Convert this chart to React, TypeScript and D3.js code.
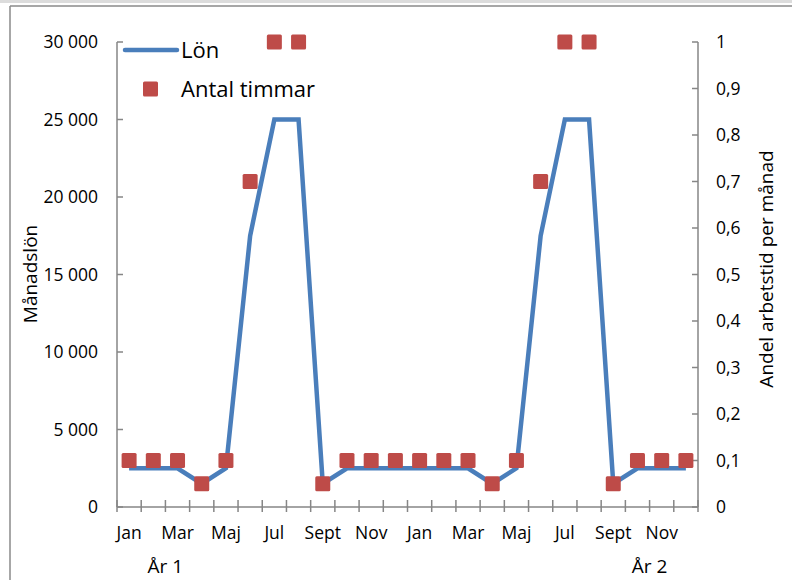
import React from "react";
import * as d3 from "d3";

const monthLabels = ["Jan","Feb","Mar","Apr","Maj","Jun","Jul","Aug","Sept","Okt","Nov","Dec","Jan","Feb","Mar","Apr","Maj","Jun","Jul","Aug","Sept","Okt","Nov","Dec"];
const shownMonths = [0, 2, 4, 6, 8, 10, 12, 14, 16, 18, 20, 22];
const lon = [2500,2500,2500,1500,2500,17500,25000,25000,1500,2500,2500,2500,2500,2500,2500,1500,2500,17500,25000,25000,1500,2500,2500,2500];
const timmar = [0.1,0.1,0.1,0.05,0.1,0.7,1,1,0.05,0.1,0.1,0.1,0.1,0.1,0.1,0.05,0.1,0.7,1,1,0.05,0.1,0.1,0.1];
const leftTicks = [0, 5000, 10000, 15000, 20000, 25000, 30000];
const rightTicks = [0, 0.1, 0.2, 0.3, 0.4, 0.5, 0.6, 0.7, 0.8, 0.9, 1];
const yearLabels = [{ label: "År 1", idx: 1.5 }, { label: "År 2", idx: 21.5 }];

const FONT = "'Open Sans', sans-serif";
const AXIS = "#868686";
const BLUE = "#4A7EBB";
const RED = "#BE4B48";

export default function App() {
  const left = 117, right = 698, top = 42, bottom = 507;
  const idx = monthLabels.map((_, i) => i);
  const x = d3.scaleBand<number>().domain(idx).range([left, right]);
  const cx = (i: number) => (x(i) as number) + x.bandwidth() / 2;
  const yL = d3.scaleLinear().domain([0, 30000]).range([bottom, top]);
  const yR = d3.scaleLinear().domain([0, 1]).range([bottom, top]);
  const line = d3.line<number>().x((_, i) => cx(i)).y((d) => yL(d));
  const fmtL = (v: number) => d3.format(",")(v).replace(/,/g, "\u00a0");
  const fmtR = (v: number) => String(+v.toFixed(1)).replace(".", ",");
  const step = x.step();
  const ms = 15;

  return (
    <svg width={792} height={580} style={{ position: "absolute", left: 0, top: 0, background: "#fff" }} fontFamily={FONT}>
      <rect x={0} y={0} width={792} height={3} fill="#dcdcdc" />
      <line x1={10} y1={6} x2={792} y2={6} stroke="#8a8a8a" strokeWidth={1.5} />
      <line x1={10} y1={6} x2={10} y2={580} stroke="#8a8a8a" strokeWidth={1.5} />

      {/* axes */}
      <line x1={left} y1={top} x2={left} y2={bottom} stroke={AXIS} strokeWidth={1.5} />
      <line x1={right} y1={top} x2={right} y2={bottom} stroke={AXIS} strokeWidth={1.5} />
      <line x1={left} y1={bottom} x2={right} y2={bottom} stroke={AXIS} strokeWidth={1.5} />
      {leftTicks.map((t) => (
        <g key={"l" + t}>
          <line x1={left} x2={left + 6} y1={yL(t)} y2={yL(t)} stroke={AXIS} strokeWidth={1.5} />
          <text x={98} y={yL(t) + 6} textAnchor="end" fontSize={17.5} fill="#000">{fmtL(t)}</text>
        </g>
      ))}
      {rightTicks.map((t) => (
        <g key={"r" + t}>
          <line x1={right - 6} x2={right} y1={yR(t)} y2={yR(t)} stroke={AXIS} strokeWidth={1.5} />
          <text x={716} y={yR(t) + 6} textAnchor="start" fontSize={17.5} fill="#000">{fmtR(t)}</text>
        </g>
      ))}
      {d3.range(25).map((k) => (
        <line key={"x" + k} x1={left + k * step} x2={left + k * step} y1={bottom - 7} y2={bottom + 5} stroke={AXIS} strokeWidth={1.5} />
      ))}
      {shownMonths.map((i) => (
        <text key={"m" + i} x={cx(i)} y={539} textAnchor="middle" fontSize={17.5} fill="#000">{monthLabels[i]}</text>
      ))}
      {yearLabels.map((d) => (
        <text key={d.label} x={left + d.idx * step + step / 2} y={573} textAnchor="middle" fontSize={19} fill="#000">{d.label}</text>
      ))}

      {/* axis titles */}
      <text transform={`translate(37,274) rotate(-90)`} textAnchor="middle" fontSize={19} fill="#000">Månadslön</text>
      <text transform={`translate(773,269) rotate(-90)`} textAnchor="middle" fontSize={19} fill="#000">Andel arbetstid per månad</text>

      {/* series */}
      <path d={line(lon) as string} fill="none" stroke={BLUE} strokeWidth={4.5} strokeLinejoin="miter" />
      {timmar.map((v, i) => (
        <rect key={"t" + i} x={cx(i) - ms / 2} y={yR(v) - ms / 2} width={ms} height={ms} rx={1.5} fill={RED} />
      ))}

      {/* legend */}
      <line x1={125} x2={177} y1={50} y2={50} stroke={BLUE} strokeWidth={4.5} strokeLinecap="round" />
      <text x={181} y={58} fontSize={22} fill="#000">Lön</text>
      <rect x={143} y={81.5} width={ms} height={ms} rx={1.5} fill={RED} />
      <text x={181} y={97} fontSize={22} fill="#000">Antal timmar</text>
    </svg>
  );
}
